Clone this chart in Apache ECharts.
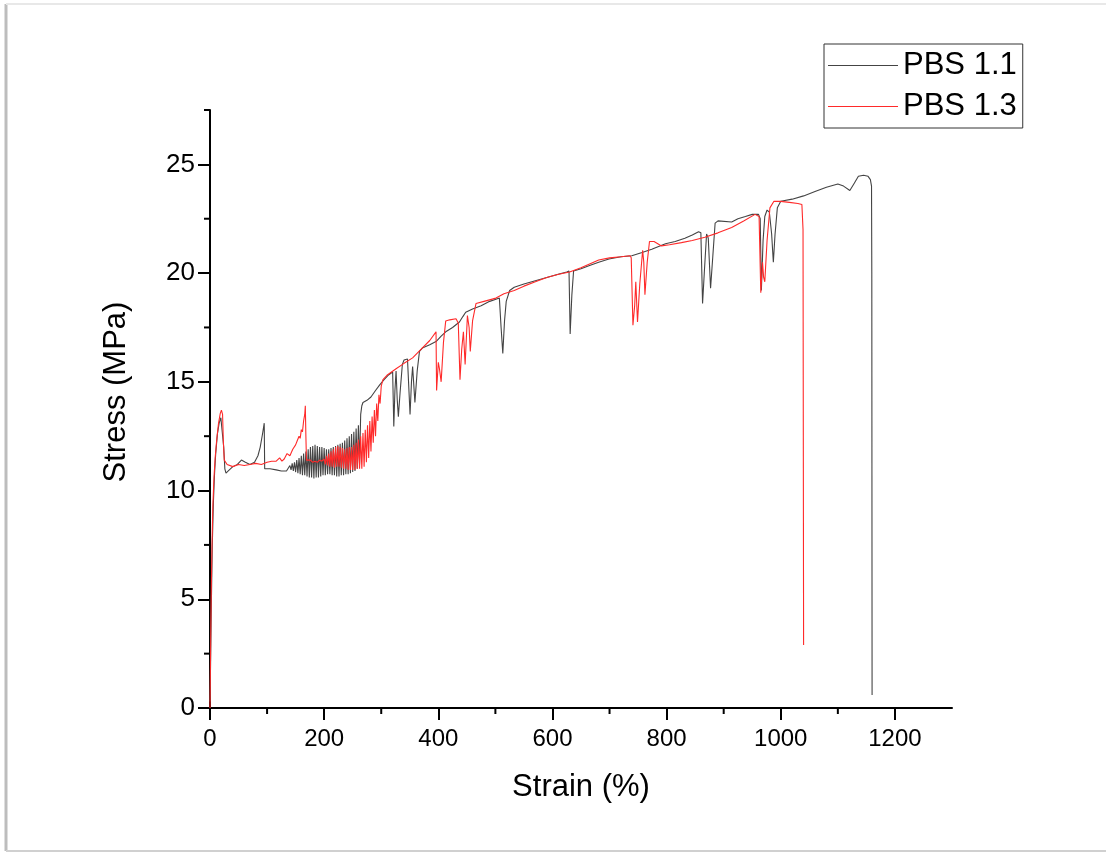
<!DOCTYPE html>
<html>
<head>
<meta charset="utf-8">
<script src="https://cdn.jsdelivr.net/npm/echarts@6/dist/echarts.min.js"></script>
<style>
html,body{margin:0;padding:0;background:#fff;}
#chart{width:1106px;height:854px;}
</style>
</head>
<body>
<div id="chart"></div>
<script>
// ---- data (strain %, stress MPa) ----
const seriesNames = ['PBS 1.1', 'PBS 1.3'];

const pbs11 = [
[0,0.3],[1,2],[2.5,5],[4,7.5],[6,9.5],[8,10.8],[10,11.7],[13,12.6],[16,13.1],[19,13.35],[22,13.3],[24,12],[26,11],[28,10.8],
[32,10.9],[40,11.1],[48,11.2],[55,11.4],[62,11.3],[70,11.2],[78,11.3],[84,11.6],[88,12.0],[92,12.6],[95,13.1],[95.8,11.0],
[98,11.0],[105,11.0],[116,10.95],[125,10.9],[134,10.9],
[140,11.15],[142,10.95],[144,11.25],[146,10.9],[148,11.3],[150,10.85],[152,11.4],[154,10.8],[156,11.5],[158,10.75],
[160,11.6],[162,10.7],[164,11.7],[166,10.7],[168,11.8],[170,10.65],[172,11.9],[174,10.6],[176,12.0],[178,10.6],
[180,12.05],[182,10.55],[184,12.1],[186,10.6],[188,12.05],[190,10.6],[192,12.0],[194,10.65],[196,12.0],[198,10.7],
[200,11.95],[202,10.7],[204,11.9],[206,10.75],[208,11.9],[210,10.75],[212,11.95],[214,10.7],[216,12.0],[218,10.7],
[220,12.05],[222,10.65],[224,12.1],[226,10.65],[228,12.15],[230,10.7],[232,12.2],[234,10.7],[236,12.3],[238,10.75],
[240,12.4],[242,10.75],[244,12.5],[246,10.8],[248,12.6],[250,10.85],[252,12.7],[254,10.9],[256,12.85],[258,11.0],
[260,13.0],[262,11.2],[264,13.5],[266,13.9],[268,14.05],[275,14.15],[282,14.3],[290,14.6],[297,14.85],[305,15.1],
[312,15.3],[320,15.45],[322,12.95],[324,14.6],[326,15.5],[328,14.2],[330,13.4],[333,14.5],[337,15.8],[340,16.0],
[346,16.05],[350.5,13.5],[353,15.0],[355,15.7],[359,14.05],[363,15.5],[367,16.4],[372,16.55],[385,16.7],[396,16.85],
[405,17.1],[413,17.3],[425,17.5],[437,17.75],[443,18.0],[448,18.2],[460,18.35],[475,18.5],[490,18.7],[501,18.8],
[507,18.85],[510,17.5],[513,16.3],[516,17.8],[519,18.7],[525,19.2],[533,19.35],[550,19.5],[570,19.65],[590,19.8],
[610,19.95],[625,20.05],[629,20.1],[631,17.2],[634,19.0],[637,20.1],[650,20.2],[665,20.35],[681,20.5],[699,20.65],
[720,20.75],[739,20.8],[757,20.95],[774,21.1],[798,21.35],[815,21.45],[832,21.6],[845,21.75],[856,21.9],[860,21.85],
[863,18.6],[866,20.0],[870,21.8],[873,21.6],[877,19.3],[881,20.8],[885,22.3],[890,22.4],[914,22.35],[925,22.5],
[938,22.6],[950,22.7],[961,22.7],[964,22.5],[966,19.2],[969,21.5],[972,22.6],[976,22.9],[980,22.8],[984,21.8],
[987,20.5],[990,21.8],[994,23.0],[1000,23.3],[1020,23.4],[1040,23.55],[1060,23.75],[1080,23.95],[1100,24.1],
[1110,24.0],[1121,23.8],[1128,24.1],[1136,24.45],[1145,24.5],[1153,24.45],[1157,24.3],[1159,24.0],[1159.5,20],[1160,0.6]
];

const pbs13 = [
[0,0],[1,2.5],[2,5],[3.5,7.5],[5,9.3],[7,10.6],[9,11.5],[12,12.4],[15,13.1],[18,13.55],[20,13.7],[22,13.5],[23.5,12.2],
[25,11.4],[30,11.2],[40,11.1],[50,11.2],[60,11.15],[70,11.2],[80,11.25],[90,11.2],[100,11.3],[108,11.35],[116,11.35],
[122,11.5],[126,11.35],[130,11.45],[135,11.7],[140,11.6],[145,11.9],[150,12.1],[153,12.3],[156,12.5],[158,12.4],
[160,12.8],[162,12.7],[164,13.2],[166,13.5],[167,13.9],[168,12.5],[169,11.4],[172,11.35],[176,11.4],[180,11.3],
[184,11.35],[188,11.3],[192,11.4],[196,11.35],[200,11.45],
[202,11.2],[204,11.6],[206,11.15],[208,11.7],[210,11.1],[212,11.8],[214,11.1],[216,11.9],[218,11.05],[220,12.0],
[222,11.1],[224,12.05],[226,11.1],[228,12.0],[230,11.05],[232,11.95],[234,11.0],[236,11.9],[238,11.0],[240,11.95],
[242,10.95],[244,12.0],[246,10.95],[248,12.0],[250,10.95],[252,12.1],[254,10.95],[256,12.2],[258,11.0],[260,12.35],
[262,11.0],[264,12.5],[266,11.0],[268,12.65],[270,11.1],[272,12.8],[274,11.3],[276,13.0],[278,11.5],[280,13.2],
[282,11.8],[284,13.4],[286,12.2],[288,13.7],[290,12.5],[292,14.0],[294,13.2],[296,14.4],[298,14.0],[300,14.8],
[303,15.1],[310,15.3],[318,15.45],[326,15.6],[340,15.85],[355,16.1],[370,16.5],[385,16.9],[396,17.3],[397,14.6],
[400,15.9],[402,15.6],[405,15.0],[409,16.8],[413,17.8],[420,17.85],[431,17.9],[435,17.7],[438,15.1],[441,16.5],
[444,17.3],[447,15.8],[451,18.05],[454,17.5],[456,16.4],[460,17.8],[466,18.6],[480,18.7],[501,18.85],[515,19.05],
[533,19.2],[550,19.4],[570,19.6],[590,19.8],[611,19.95],[630,20.05],[650,20.25],[681,20.6],[700,20.7],[720,20.75],
[736,20.8],[738,20.7],[741,17.6],[744,18.5],[746,19.6],[749,17.75],[753,19.5],[758,21.05],[760,20.5],[762,19.0],
[766,20.5],[770,21.45],[778,21.45],[791,21.25],[805,21.3],[826,21.4],[845,21.5],[867,21.65],[890,21.85],[914,22.1],
[935,22.4],[955,22.7],[962,22.6],[965,19.1],[968,20.5],[970,19.8],[972,19.6],[976,21.5],[981,23.0],[988,23.3],
[1000,23.3],[1015,23.25],[1030,23.2],[1037,23.15],[1039,22.0],[1040,2.9]
];

const xMajorTicks = [0, 200, 400, 600, 800, 1000, 1200];
const xMinorTicks = [100, 300, 500, 700, 900, 1100];
const yMajorTicks = [0, 5, 10, 15, 20, 25];
const yMinorTicks = [2.5, 7.5, 12.5, 17.5, 22.5, 27.5];

// ---- chart ----
const chart = echarts.init(document.getElementById('chart'), null, {renderer: 'canvas'});
const FONT = 'Liberation Sans, Arial, sans-serif';
const axisCol = '#000';
const plain = v => String(v);
const X_MIN = 0, Y_MIN = 0, MINOR_LEN = 6;

// minor ticks drawn through the axes' own scales (api.coord)
function minorTickSeries(values, dim) {
  return {
    type: 'custom', silent: true, clip: false, z: 10,
    data: values.map(v => [v]),
    encode: dim === 'x' ? {x: 0} : {y: 0},
    renderItem: function (params, api) {
      const v = api.value(0);
      const p = dim === 'x' ? api.coord([v, Y_MIN]) : api.coord([X_MIN, v]);
      const shape = dim === 'x'
        ? {x1: p[0], y1: p[1], x2: p[0], y2: p[1] + MINOR_LEN}
        : {x1: p[0] - MINOR_LEN, y1: p[1], x2: p[0], y2: p[1]};
      return {type: 'line', shape: shape, style: {stroke: axisCol, lineWidth: 2}};
    }
  };
}

const option = {
  animation: false,
  backgroundColor: '#fff',
  grid: {left: 210, right: 154, top: 110, bottom: 146, containLabel: false},
  legend: {
    orient: 'vertical', left: 824, top: 44,
    data: seriesNames,
    icon: 'rect',
    borderColor: '#333', borderWidth: 1,
    padding: [6, 6, 6, 4],
    itemWidth: 70, itemHeight: 1, itemGap: 10,
    textStyle: {fontFamily: FONT, fontSize: 31, color: '#000', lineHeight: 30}
  },
  xAxis: {
    type: 'value', min: X_MIN, max: 1300, position: 'bottom',
    splitLine: {show: false},
    name: 'Strain (%)', nameLocation: 'middle', nameGap: 64,
    nameTextStyle: {fontFamily: FONT, fontSize: 31, color: '#000'},
    axisLine: {show: true, onZero: false, lineStyle: {color: axisCol, width: 2}},
    axisTick: {show: true, inside: false, length: 12, customValues: xMajorTicks, lineStyle: {color: axisCol, width: 2}},
    axisLabel: {show: true, margin: 19, customValues: xMajorTicks, formatter: plain, fontFamily: FONT, fontSize: 24, color: '#000'}
  },
  yAxis: {
    type: 'value', min: Y_MIN, max: 27.5, position: 'left',
    splitLine: {show: false},
    name: 'Stress (MPa)', nameLocation: 'middle', nameGap: 78,
    nameTextStyle: {fontFamily: FONT, fontSize: 31, color: '#000', padding: [0, 0, 0, 34]},
    axisLine: {show: true, onZero: false, lineStyle: {color: axisCol, width: 2}},
    axisTick: {show: true, inside: false, length: 12, customValues: yMajorTicks, lineStyle: {color: axisCol, width: 2}},
    axisLabel: {show: true, margin: 15, customValues: yMajorTicks, formatter: plain, fontFamily: FONT, fontSize: 26, color: '#000'}
  },
  graphic: [
    {type: 'line', silent: true, shape: {x1: 6, y1: 4, x2: 6, y2: 851}, style: {stroke: '#bdbdbd', lineWidth: 3}},
    {type: 'line', silent: true, shape: {x1: 6, y1: 4, x2: 1106, y2: 4}, style: {stroke: '#e8e8e8', lineWidth: 2}},
    {type: 'line', silent: true, shape: {x1: 6, y1: 851, x2: 1106, y2: 851}, style: {stroke: '#d0d0d0', lineWidth: 2}}
  ],
  series: [
    {name: seriesNames[0], type: 'line', data: pbs11, symbol: 'none', showSymbol: false,
     lineStyle: {color: '#444444', width: 1.1}, itemStyle: {color: '#444444'}, z: 3},
    {name: seriesNames[1], type: 'line', data: pbs13, symbol: 'none', showSymbol: false,
     lineStyle: {color: '#ff2a2a', width: 1.1}, itemStyle: {color: '#ff2a2a'}, z: 4},
    minorTickSeries(xMinorTicks, 'x'),
    minorTickSeries(yMinorTicks, 'y')
  ]
};
chart.setOption(option);
</script>
</body>
</html>
